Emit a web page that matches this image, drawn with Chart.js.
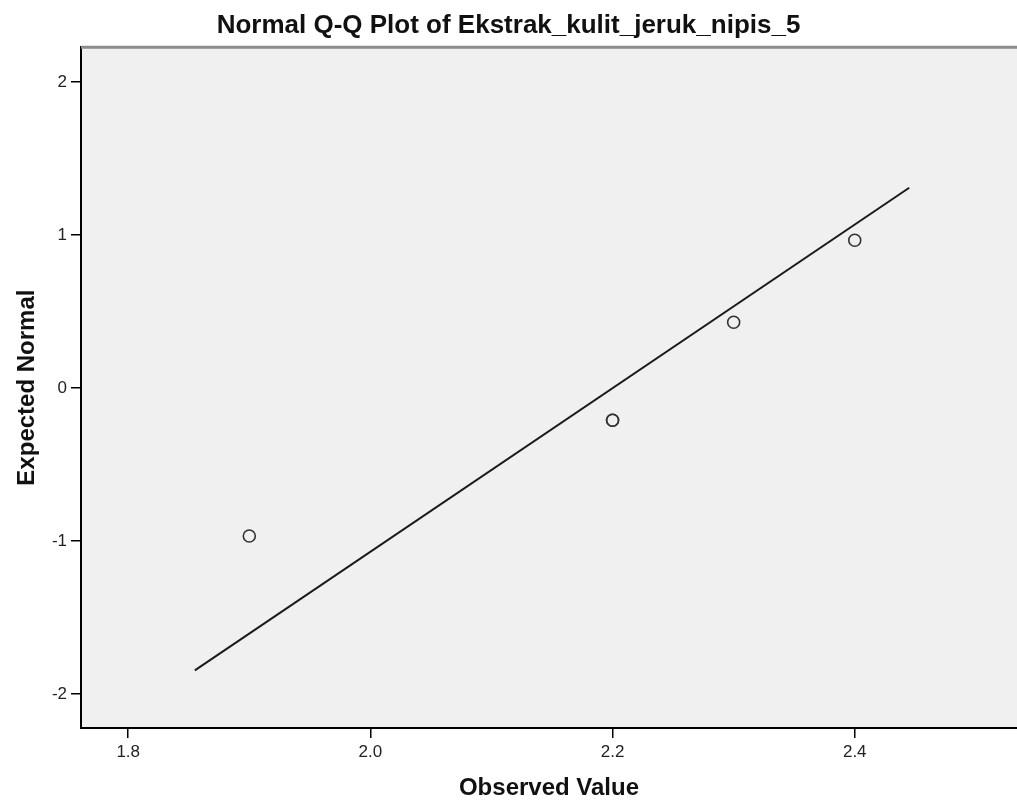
<!DOCTYPE html>
<html>
<head>
<meta charset="utf-8">
<script src="https://cdn.jsdelivr.net/npm/chart.js@4"></script>
<style>
  html, body { margin: 0; padding: 0; background: #fff; }
  canvas { display: block; }
</style>
</head>
<body>
<canvas id="qqChart" width="1017" height="803"></canvas>
<script>
// observed values (2.2 occurs twice) and their expected normal scores
const observedValues = [1.9, 2.2, 2.2, 2.3, 2.4];
const expectedNormal = [-0.967, -0.210, -0.210, 0.431, 0.967];

// reference line endpoints
const lineX = [1.855, 2.445];
const lineY = [-1.845, 1.31];

const xTicks = [1.8, 2.0, 2.2, 2.4];
const yTicks = [-2, -1, 0, 1, 2];

const FONT = '"Liberation Sans", Arial, sans-serif';

const ctx = document.getElementById('qqChart').getContext('2d');

// grey plot background + grey top border
const plotFrame = {
  id: 'plotFrame',
  beforeDraw(chart) {
    const { ctx, chartArea: a } = chart;
    ctx.save();
    ctx.fillStyle = '#f0f0f0';
    ctx.fillRect(a.left, a.top, a.right - a.left, a.bottom - a.top);
    ctx.restore();
  },
  afterDraw(chart) {
    const { ctx, chartArea: a } = chart;
    ctx.save();
    ctx.strokeStyle = '#8c8c8c';
    ctx.lineWidth = 3;
    ctx.beginPath();
    ctx.moveTo(a.left, a.top);
    ctx.lineTo(a.right, a.top);
    ctx.stroke();
    ctx.restore();
  }
};

new Chart(ctx, {
  type: 'scatter',
  data: {
    datasets: [
      {
        label: 'Reference',
        data: lineX.map((x, i) => ({ x, y: lineY[i] })),
        showLine: true,
        borderColor: '#1a1a1a',
        borderWidth: 2,
        pointRadius: 0,
        fill: false
      },
      {
        label: 'Observed',
        data: observedValues.map((x, i) => ({ x, y: expectedNormal[i] })),
        pointRadius: 6,
        pointBorderWidth: 1.6,
        borderColor: '#333333',
        backgroundColor: 'rgba(0,0,0,0)',
        showLine: false
      }
    ]
  },
  options: {
    responsive: false,
    animation: false,
    layout: { padding: 0, autoPadding: false },
    plugins: {
      legend: { display: false },
      tooltip: { enabled: false },
      title: {
        display: true,
        text: 'Normal Q-Q Plot of Ekstrak_kulit_jeruk_nipis_5',
        color: '#111',
        font: { family: FONT, size: 26, weight: 'bold' },
        padding: { top: 10, bottom: 6 }
      }
    },
    scales: {
      x: {
        type: 'linear',
        min: 1.761,
        max: 2.534,
        afterFit: s => { s.height = 75; s.paddingLeft = 0; s.paddingRight = 0; },
        afterBuildTicks: s => { s.ticks = xTicks.map(v => ({ value: v })); },
        ticks: {
          callback: v => v.toFixed(1),
          color: '#222',
          font: { family: FONT, size: 17 },
          padding: 4,
          maxRotation: 0
        },
        grid: {
          drawOnChartArea: false,
          tickLength: 10,
          color: '#000',
          lineWidth: 1.5
        },
        border: { color: '#000', width: 2 },
        title: {
          display: true,
          text: 'Observed Value',
          color: '#111',
          font: { family: FONT, size: 24, weight: 'bold' },
          padding: { top: 0, bottom: 0 }
        }
      },
      y: {
        type: 'linear',
        min: -2.222,
        max: 2.229,
        afterFit: s => { s.width = 81; s.paddingTop = 0; s.paddingBottom = 0; },
        afterBuildTicks: s => { s.ticks = yTicks.map(v => ({ value: v })); },
        ticks: {
          callback: v => String(v),
          color: '#222',
          font: { family: FONT, size: 17 },
          padding: 4
        },
        grid: {
          drawOnChartArea: false,
          tickLength: 10,
          color: '#000',
          lineWidth: 1.5
        },
        border: { color: '#000', width: 2 },
        title: {
          display: true,
          text: 'Expected Normal',
          color: '#111',
          font: { family: FONT, size: 24, weight: 'bold' },
          padding: { top: 13, bottom: 0 }
        }
      }
    }
  },
  plugins: [plotFrame]
});
</script>
</body>
</html>
